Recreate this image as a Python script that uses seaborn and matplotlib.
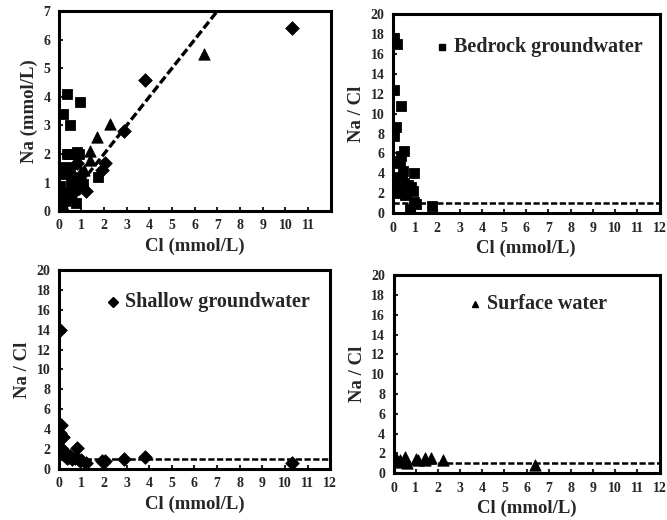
import numpy as np
import pandas as pd
import matplotlib
matplotlib.use("Agg")
import matplotlib.pyplot as plt
import seaborn as sns

# data: Cl and Na (mmol/L) per water type
bed_cl = [0.05, 0.20, 0.05, 0.38, 0.15, 0.05, 0.48, 0.30, 0.06, 0.47, 0.95, 0.40,
          0.10, 0.80, 0.25, 0.15, 0.55, 0.95, 1.05, 1.75, 0.70, 0.60, 0.35, 0.75,
          0.90, 0.50]
bed_na = [0.88, 3.40, 0.62, 4.10, 1.30, 0.39, 3.00, 1.56, 0.30, 2.00, 3.80, 1.44,
          0.35, 2.08, 0.63, 0.30, 0.99, 1.05, 0.95, 1.20, 2.00, 1.20, 2.00, 0.30,
          2.00, 1.50]

sha_cl = [0.05, 0.10, 0.05, 0.20, 0.80, 0.10, 0.30, 0.50, 0.60, 1.00, 1.20, 1.90,
          2.05, 2.90, 3.80, 10.30, 0.15, 0.35, 0.70, 0.45, 0.25, 0.90]
sha_na = [0.70, 0.44, 0.18, 0.64, 1.70, 0.20, 0.45, 0.65, 0.60, 0.90, 0.72, 1.45,
          1.70, 2.80, 4.60, 6.40, 0.30, 0.40, 0.80, 0.55, 0.35, 0.80]

sur_cl = [0.10, 0.30, 0.50, 0.60, 1.00, 1.10, 1.40, 1.70, 2.25, 1.40, 6.40, 0.20]
sur_na = [0.15, 0.39, 0.80, 0.60, 1.40, 1.43, 2.10, 2.60, 3.05, 1.80, 5.50, 0.22]

groups = ["Bedrock groundwater", "Shallow groundwater", "Surface water"]
markers = {"Bedrock groundwater": "s", "Shallow groundwater": "D", "Surface water": "^"}
sizes = {"Bedrock groundwater": 52, "Shallow groundwater": 48, "Surface water": 66}

df = pd.concat([
    pd.DataFrame({"Cl": bed_cl, "Na": bed_na, "type": groups[0]}),
    pd.DataFrame({"Cl": sha_cl, "Na": sha_na, "type": groups[1]}),
    pd.DataFrame({"Cl": sur_cl, "Na": sur_na, "type": groups[2]}),
], ignore_index=True)
df["ratio"] = df["Na"] / df["Cl"]

sns.set_style("ticks")
plt.rcParams['font.family'] = ['Liberation Serif', 'DejaVu Serif']
plt.rcParams['font.weight'] = 'bold'

fig = plt.figure(figsize=(6.67, 5.2), dpi=100)
ax_tl = fig.add_axes([0.088, 0.594, 0.408, 0.385])
ax_tr = fig.add_axes([0.589, 0.590, 0.400, 0.383])
ax_bl = fig.add_axes([0.088, 0.098, 0.407, 0.383])
ax_br = fig.add_axes([0.590, 0.090, 0.399, 0.381])


def style(ax, ylab, ymax, ystep, xticks):
    ax.set_xlim(0, 12)
    ax.set_ylim(0, ymax)
    ax.set_xticks(xticks)
    ax.set_yticks(np.arange(0, ymax + 0.1, ystep))
    for s in ax.spines.values():
        s.set_linewidth(2.2)
        s.set_color("black")
    ax.tick_params(direction="in", length=3, width=1.5, labelsize=10, pad=6)
    for lab in ax.get_xticklabels() + ax.get_yticklabels():
        lab.set_fontweight("bold")
    ax.set_xlabel("Cl (mmol/L)", fontsize=13.5, fontweight="bold", labelpad=4)
    ax.set_ylabel(ylab, fontsize=13.5, fontweight="bold", labelpad=4)


# 1. Na vs Cl, all groups
for g in groups:
    sub = df[df["type"] == g]
    sns.scatterplot(data=sub, x="Cl", y="Na", marker=markers[g], s=sizes[g],
                    color="black", edgecolor="black", ax=ax_tl, legend=False)
ax_tl.plot([0, 12], [0, 12], ls=(0, (2.5, 1)), color="black", lw=2.4)
style(ax_tl, "Na (mmol/L)", 7, 1, range(0, 12))

# 2-4. Na/Cl vs Cl per group
for ax, g, pos in zip([ax_tr, ax_bl, ax_br], groups,
                      [(0.186, 0.834), (0.20, 0.838), (0.307, 0.853)]):
    sub = df[df["type"] == g]
    sns.scatterplot(data=sub, x="Cl", y="ratio", marker=markers[g], s=sizes[g],
                    color="black", edgecolor="black", ax=ax, legend=False)
    ax.plot([0, 12], [1, 1], ls=(0, (2.5, 1)), color="black", lw=1.8)
    style(ax, "Na / Cl", 20, 2, range(0, 13))
    ax.plot([pos[0]], [pos[1]], marker=markers[g], color="black", ms=5,
            transform=ax.transAxes, clip_on=False)
    ax.text(pos[0] + 0.045, pos[1], g, transform=ax.transAxes, fontsize=14.5,
            fontweight="bold", va="center", ha="left")

fig.savefig("out.png", dpi=100)
